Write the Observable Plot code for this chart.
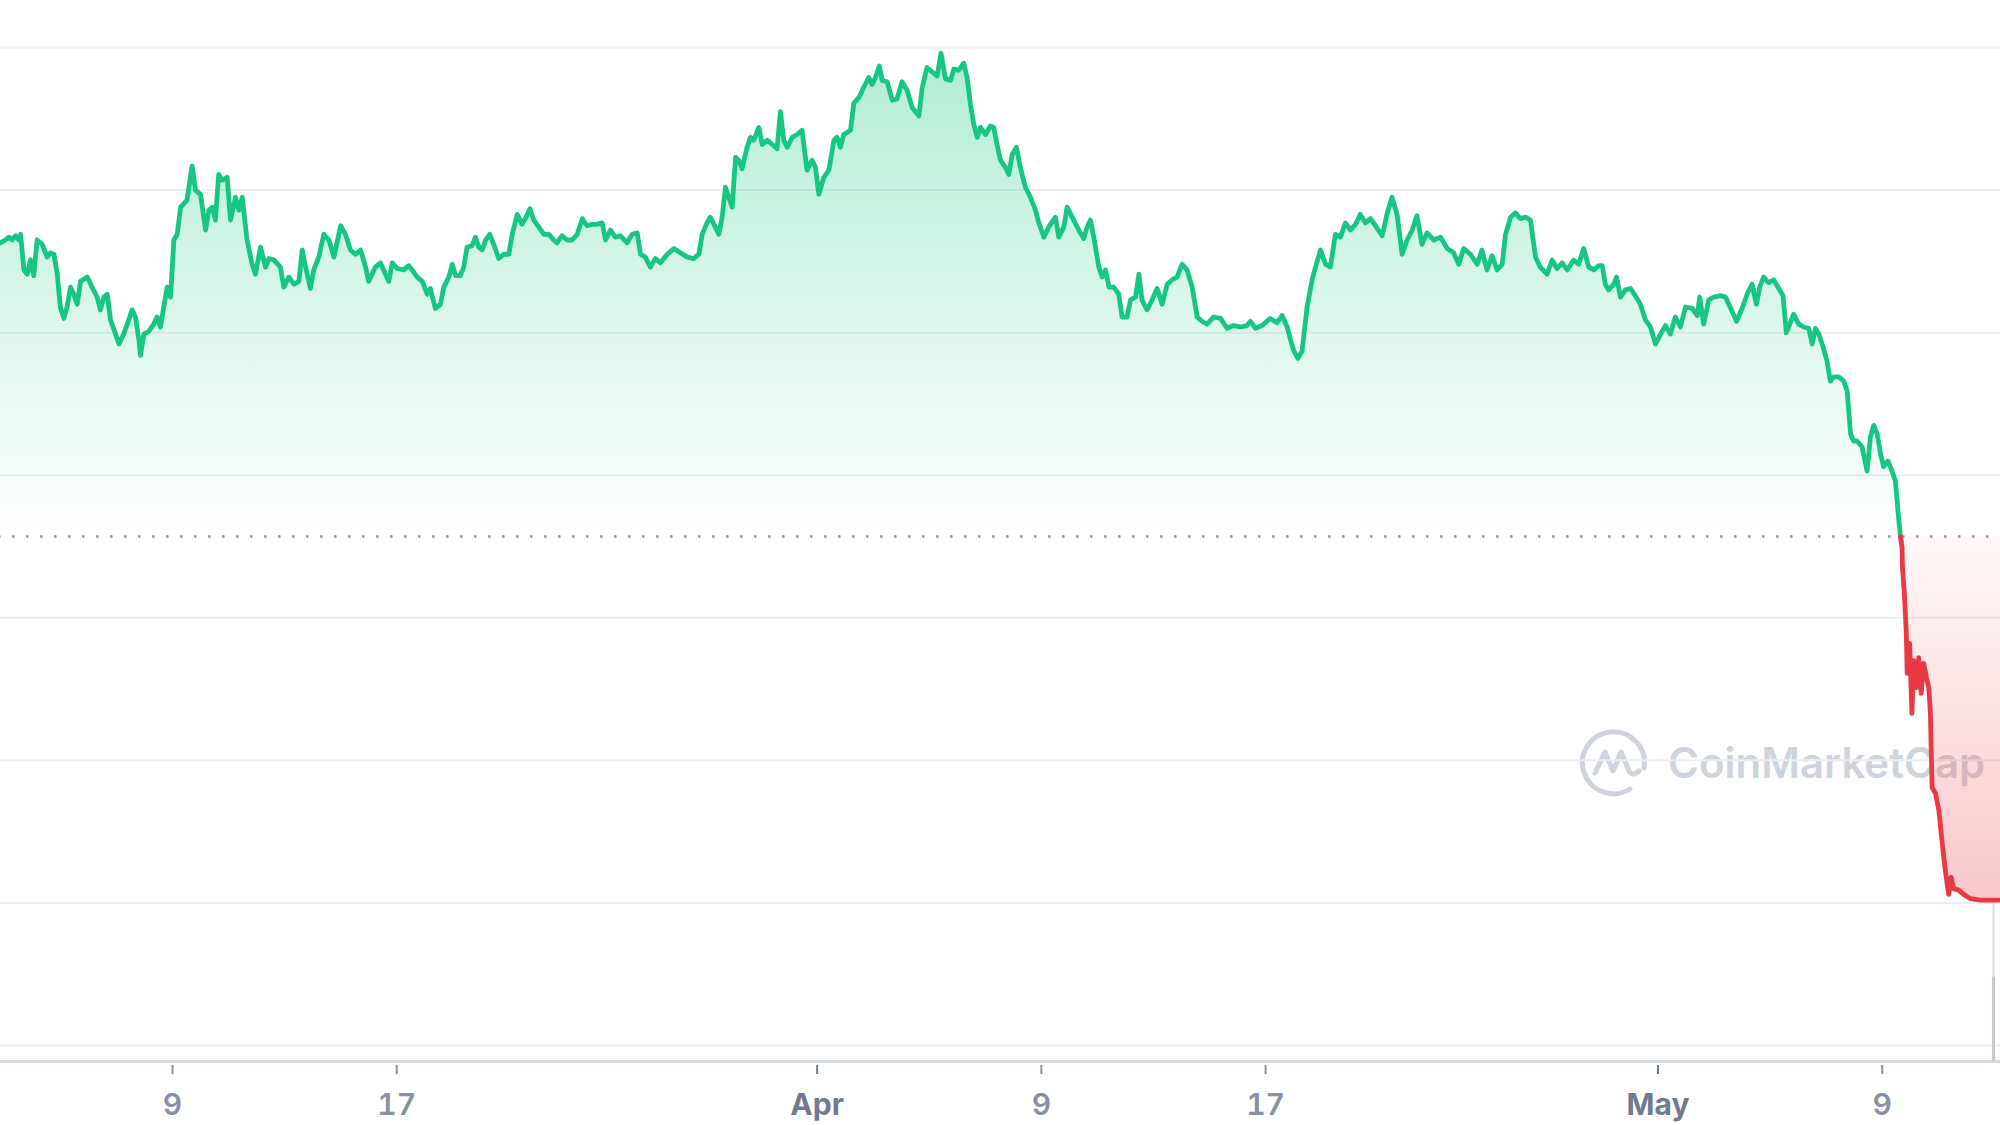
<!DOCTYPE html>
<html><head><meta charset="utf-8">
<script src="https://cdn.jsdelivr.net/npm/d3@7"></script>
<script src="https://cdn.jsdelivr.net/npm/@observablehq/plot@0.6"></script>
<style>
html,body{margin:0;padding:0;background:#fff;}
#wrap{position:relative;width:2000px;height:1125px;overflow:hidden;}
#wm{position:absolute;left:1578px;top:726px;display:flex;align-items:center;gap:18px;color:#cfd3de;font-family:Inter,"Noto Sans",sans-serif;font-weight:600;font-size:42px;z-index:0;pointer-events:none;}
#chart{position:relative;z-index:1;}
</style></head>
<body>
<div id="wrap">
  <div id="wm">
    <svg width="72" height="72" viewBox="0 0 72 72"><path d="M52 63 A31 31 0 1 1 66 42" fill="none" stroke="#cfd3de" stroke-width="5" stroke-linecap="round"/><path d="M17 47 L27 26 L35 45 L43 26 L51 45 Q54 51 61 45" fill="none" stroke="#cfd3de" stroke-width="5" stroke-linejoin="round" stroke-linecap="round"/></svg>
    <span>CoinMarketCap</span>
  </div>
  <div id="chart"></div>
</div>
<script>
// Time in days since 2022-03-01 00:00 UTC
const times = [
1.86,2.04,2.16,2.28,2.40,2.52,2.58,2.70,2.82,2.93,3.05,3.17,3.35,3.53,3.65,3.77,3.89,4.00,4.12,4.24,
4.36,4.48,4.60,4.72,4.96,5.13,5.31,5.43,5.55,5.67,5.79,5.97,6.09,6.26,6.44,6.56,6.68,6.80,6.86,6.98,
7.16,7.33,7.45,7.57,7.69,7.81,7.93,8.05,8.17,8.29,8.52,8.70,8.82,9.00,9.18,9.30,9.42,9.53,9.65,9.77,
9.95,10.07,10.25,10.37,10.49,10.66,10.84,10.96,11.14,11.32,11.44,11.62,11.85,11.97,12.15,12.33,12.51,12.63,12.75,12.92,
13.04,13.22,13.40,13.58,13.76,14.00,14.17,14.35,14.53,14.71,14.89,15.00,15.12,15.24,15.42,15.60,15.72,15.84,16.02,16.25,
16.43,16.55,16.73,16.91,17.09,17.20,17.38,17.56,17.68,17.86,17.98,18.10,18.27,18.39,18.51,18.69,18.81,18.93,19.05,19.17,
19.32,19.46,19.64,19.82,20.00,20.12,20.30,20.47,20.59,20.75,20.89,21.07,21.25,21.43,21.60,21.72,21.90,22.08,22.26,22.44,
22.62,22.79,22.97,23.15,23.33,23.45,23.63,23.80,23.98,24.22,24.40,24.58,24.70,24.87,25.05,25.23,25.41,25.65,25.89,26.12,
26.36,26.60,26.78,26.90,27.07,27.19,27.37,27.49,27.61,27.73,27.85,27.97,28.09,28.20,28.32,28.50,28.62,28.74,28.92,29.04,
29.22,29.40,29.57,29.69,29.81,29.93,30.11,30.29,30.46,30.64,30.82,30.94,31.06,31.24,31.42,31.60,31.71,31.83,31.95,32.19,
32.31,32.49,32.66,32.84,32.96,33.08,33.22,33.32,33.50,33.68,33.85,34.03,34.21,34.39,34.63,34.75,34.92,35.10,35.28,35.42,
35.58,35.76,35.88,36.05,36.23,36.35,36.47,36.59,36.71,36.83,37.01,37.18,37.30,37.42,37.54,37.72,37.84,37.96,38.11,38.25,
38.43,38.61,38.79,38.91,39.09,39.26,39.50,39.62,39.80,39.92,40.10,40.33,40.51,40.63,40.75,40.87,41.05,41.17,41.29,41.41,
41.58,41.76,41.88,42.06,42.18,42.36,42.48,42.59,42.77,42.95,43.13,43.31,43.49,43.66,43.84,44.02,44.20,44.38,44.56,44.73,
44.91,45.15,45.39,45.63,45.86,46.10,46.34,46.46,46.64,46.87,47.17,47.41,47.59,47.77,47.89,48.01,48.15,48.30,48.48,48.66,
48.78,48.96,49.14,49.31,49.49,49.67,49.85,50.03,50.21,50.38,50.56,50.74,50.92,51.16,51.33,51.51,51.69,51.87,52.05,52.23,
52.40,52.58,52.76,53.00,53.24,53.48,53.71,53.89,54.07,54.31,54.55,54.72,54.90,55.08,55.26,55.44,55.56,55.74,55.91,56.09,
56.27,56.45,56.63,56.80,57.04,57.22,57.40,57.58,57.76,57.99,58.17,58.35,58.53,58.71,58.89,59.01,59.12,59.24,59.42,59.52,
59.66,59.84,60.02,60.19,60.37,60.55,60.73,60.91,61.09,61.27,61.44,61.62,61.80,61.98,62.22,62.40,62.49,62.63,62.81,62.99,
63.23,63.41,63.64,63.80,64.00,64.18,64.36,64.51,64.63,64.77,64.95,65.13,65.31,65.46,65.58,65.70,65.84,66.02,66.20,66.38,
66.50,66.62,66.74,66.89,67.03,67.15,67.27,67.45,67.63,67.75,67.87,67.98,68.10,68.28,68.46,68.58,68.70,68.82,68.94,69.05,
69.20,69.35,69.47,69.57,69.65,
69.71,69.72,69.79,69.86,69.89,69.98,70.06,70.12,70.22,70.30,70.39,70.48,70.58,70.66,70.72,70.75,70.78,70.90,71.02,71.13,
71.25,71.37,71.46,71.55,71.73,71.91,72.15,72.50,72.98,73.22
];
const prices = [
76.3,76.5,76.7,76.5,76.8,76.5,76.9,74.4,74.1,75.1,74.0,76.5,76.2,75.3,75.6,75.5,74.1,71.8,71.0,71.8,
73.2,72.7,72.0,73.6,73.9,73.2,72.5,71.6,72.5,72.7,70.9,69.9,69.2,69.9,70.9,71.6,71.1,69.5,68.4,69.9,
70.1,70.6,71.1,70.4,71.8,73.2,72.5,76.5,76.9,78.8,79.3,81.7,80.0,79.7,77.2,78.6,78.8,77.9,81.1,80.7,
80.9,77.9,79.5,78.6,79.5,76.5,74.8,74.1,76.0,74.6,75.2,75.1,74.6,73.2,73.9,73.4,73.6,75.8,74.6,73.1,
74.4,75.3,76.9,76.5,75.3,77.5,76.9,75.8,75.5,75.8,74.6,73.6,74.1,74.6,74.9,74.1,73.6,74.9,74.5,74.4,
74.7,74.4,73.9,73.6,72.7,73.1,71.7,72.0,73.2,73.9,74.8,74.0,74.0,74.6,76.0,76.1,76.7,76.0,75.8,76.5,
76.9,76.2,75.2,75.5,75.5,76.9,78.3,77.6,78.0,78.7,77.9,77.4,76.9,76.9,76.5,76.3,76.8,76.5,76.5,76.9,
78.0,77.5,77.6,77.6,77.7,76.5,77.2,76.7,76.8,76.3,76.9,77.0,75.5,75.3,74.6,75.2,74.9,75.5,75.9,75.6,
75.3,75.2,75.5,76.9,77.7,78.1,77.4,76.9,78.1,80.2,79.5,78.8,82.3,82.1,81.5,83.0,83.7,83.5,84.4,83.2,
83.5,83.2,82.9,85.5,83.5,83.0,83.7,83.9,84.2,81.4,82.1,81.6,79.7,80.9,81.4,83.5,83.7,83.0,83.9,84.2,
86.1,86.5,87.2,87.9,87.4,87.9,88.7,87.7,87.6,86.3,86.4,87.6,87.0,85.8,85.2,87.2,88.6,88.3,88.0,89.6,
87.8,87.7,88.5,88.4,88.9,87.9,86.0,84.6,83.7,84.4,83.9,84.5,84.4,83.2,82.1,81.6,81.1,82.5,83.0,81.6,
80.2,79.5,78.6,77.7,76.7,77.4,78.1,76.7,77.4,78.8,78.1,77.2,76.6,77.4,77.9,76.7,74.6,73.9,74.4,73.2,
73.2,72.7,71.1,71.1,72.3,72.5,74.1,72.3,71.6,72.3,73.1,72.0,73.4,73.7,73.9,74.8,74.4,73.2,71.1,70.8,
70.6,71.1,71.0,70.3,70.5,70.4,70.5,70.8,70.3,70.5,71.0,70.7,71.2,70.4,69.5,68.7,68.2,68.7,71.8,73.7,
74.6,75.8,74.8,74.6,76.9,76.7,77.7,77.2,77.6,78.3,77.7,78.0,77.5,76.8,78.3,79.5,78.3,75.5,76.5,77.2,
78.2,76.2,77.0,76.5,76.7,75.9,75.6,74.8,75.9,75.5,74.8,75.8,74.4,75.4,74.4,74.8,76.9,78.1,78.4,78.0,
78.1,77.9,75.3,74.6,74.1,75.1,74.5,74.9,74.4,75.1,74.8,75.9,74.6,74.4,74.7,74.7,73.4,73.0,73.4,73.9,
72.5,73.0,73.1,72.6,72.0,70.9,70.4,69.2,69.9,70.5,69.9,71.1,70.4,71.8,71.7,71.2,72.5,70.6,72.3,72.5,
72.6,72.5,71.5,70.8,71.7,72.7,73.4,72.0,73.2,73.9,73.5,73.7,73.1,72.6,70.0,70.6,71.3,70.6,70.4,70.3,
69.2,70.3,69.9,69.0,68.0,66.6,66.9,66.9,66.6,65.9,62.9,62.4,62.4,62.0,60.3,62.7,63.5,62.9,61.5,60.6,
61.0,60.3,59.6,57.3,55.7,
54.9,53.6,51.7,48.9,46.1,48.2,43.3,47.0,45.1,47.2,44.7,46.8,45.8,45.1,43.3,40.5,38.1,37.7,36.5,34.4,
32.3,30.6,31.8,31.0,30.9,30.6,30.3,30.2,30.2,30.2
];
const openPrice = 55.7;            // dotted reference line
const gridValues = [20, 30, 40, 50, 60, 70, 80, 90];
const axisBase = 18.88;
const viewStart = 1.864, viewEnd = 73.22, cursorDay = 72.97;
const dayTickDays = [8, 16, 39, 47, 69];
const dayTickLabels = ["9", "17", "9", "17", "9"];
const monthTickDays = [31, 61];
const monthTickLabels = ["Apr", "May"];
const upColor = "#16c784", downColor = "#ea3943";

const t0 = Date.UTC(2022, 2, 1);
const toDate = d => new Date(t0 + d * 864e5);
const rows = times.map((d, i) => ({date: toDate(d), price: prices[i]}));
const cut = prices.findIndex(p => p < openPrice);
const up = rows.slice(0, cut), down = rows.slice(cut - 1);

const chart = Plot.plot({
  width: 2000, height: 1125,
  marginTop: 0, marginRight: 0, marginLeft: 0, marginBottom: 60,
  style: {background: "transparent", fontFamily: "Inter, 'Noto Sans', sans-serif", overflow: "visible"},
  x: {type: "utc", domain: [toDate(viewStart), toDate(viewEnd)]},
  y: {domain: [18.597, 93.30], axis: null},
  marks: [
    Plot.gridY(gridValues, {stroke: "#eceef2", strokeOpacity: 1, strokeWidth: 2}),
    Plot.areaY(up, {x: "date", y1: openPrice, y2: "price", fill: "url(#upGrad)"}),
    Plot.areaY(down, {x: "date", y1: openPrice, y2: "price", fill: "url(#downGrad)"}),
    Plot.ruleY([openPrice], {stroke: "#8e94a2", strokeWidth: 2.5, strokeDasharray: "2.5 11.5", strokeDashoffset: -12}),
    Plot.ruleY([axisBase], {stroke: "#d3d8e3", strokeWidth: 3}),
    Plot.ruleX([toDate(cursorDay)], {y1: 30, y2: axisBase, stroke: "#dadde5", strokeWidth: 2}),
    Plot.ruleX([toDate(cursorDay)], {y1: 24.8, y2: axisBase, stroke: "#c4c9d4", strokeWidth: 3}),
    Plot.line(up, {x: "date", y: "price", stroke: upColor, strokeWidth: 4.8, strokeLinejoin: "round", strokeLinecap: "round"}),
    Plot.line(down, {x: "date", y: "price", stroke: downColor, strokeWidth: 4.8, strokeLinejoin: "round", strokeLinecap: "round"}),
    Plot.axisX({ticks: dayTickDays.map(toDate), tickFormat: (d, i) => dayTickLabels[i], anchor: "bottom", label: null,
      tickSize: 9, tickPadding: 19, fontSize: 30, fontWeight: 600, color: "#8a90a4", strokeWidth: 2}),
    Plot.axisX({ticks: monthTickDays.map(toDate), tickFormat: (d, i) => monthTickLabels[i], anchor: "bottom", label: null,
      tickSize: 9, tickPadding: 19, fontSize: 30, fontWeight: 700, color: "#717a91", strokeWidth: 2})
  ]
});

const defs = d3.select(chart).insert("defs", ":first-child");
const g1 = defs.append("linearGradient").attr("id", "upGrad").attr("x1", 0).attr("y1", 0).attr("x2", 0).attr("y2", 1);
g1.append("stop").attr("offset", "0%").attr("stop-color", upColor).attr("stop-opacity", 0.33);
g1.append("stop").attr("offset", "100%").attr("stop-color", upColor).attr("stop-opacity", 0);
const g2 = defs.append("linearGradient").attr("id", "downGrad").attr("x1", 0).attr("y1", 0).attr("x2", 0).attr("y2", 1);
g2.append("stop").attr("offset", "0%").attr("stop-color", downColor).attr("stop-opacity", 0.03);
g2.append("stop").attr("offset", "100%").attr("stop-color", downColor).attr("stop-opacity", 0.28);

document.getElementById("chart").appendChild(chart);
</script>
</body></html>
